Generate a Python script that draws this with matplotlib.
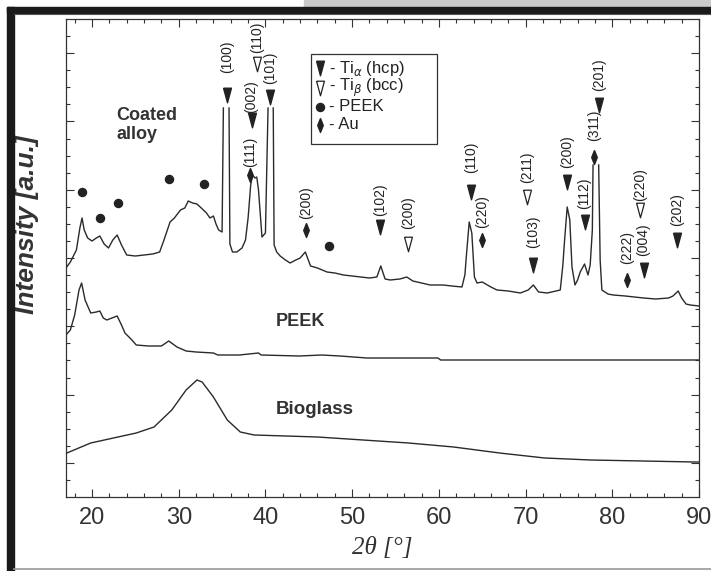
import numpy as np
import matplotlib
matplotlib.use("Agg")
import matplotlib.pyplot as plt
from matplotlib.lines import Line2D
from matplotlib.patches import Rectangle
from matplotlib.ticker import MultipleLocator, FixedLocator

nan = np.nan

# coated alloy pattern (peak tops hidden behind the labels -> nan)
coated_2theta = [17.0, 17.5, 18.2, 18.6, 18.85, 19.1, 19.5, 20.0, 20.5, 20.9, 21.4, 21.9, 22.4, 22.9,
                 23.4, 24.0, 25.0, 26.0, 27.0, 27.8, 28.3, 29.0, 29.5, 30.2, 30.7, 31.1, 31.6, 32.1,
                 32.6, 33.2, 33.6, 34.0, 34.3, 34.6, 35.0, 35.15, nan, 35.8, 35.9, 36.2, 36.7, 37.3,
                 37.7, 38.0, 38.3, 38.5, 38.8, 39.0, 39.2, 39.4, 39.6, 40.0, 40.3, nan, 40.9, 41.0,
                 41.3, 41.7, 42.3, 42.85, 43.5, 44.0, 44.6, 45.2, 46.0, 47.1, 48.0, 49.0, 50.0, 50.9,
                 52.0, 52.85, 53.3, 53.8, 54.4, 55.5, 56.3, 57.0, 58.0, 59.0, 60.5, 61.5, 62.66, 63.0,
                 63.2, 63.5, 63.8, 64.1, 64.4, 65.0, 66.0, 66.7, 68.0, 69.4, 70.3, 70.9, 71.5, 72.5,
                 73.5, 74.0, 74.3, 74.5, 74.8, 75.1, 75.35, 75.7, 76.0, 76.3, 76.8, 77.2, 77.45, 77.7,
                 77.78, nan, 78.43, 78.6, 78.8, 79.5, 80.1, 81.5, 82.5, 83.6, 85.0, 86.5, 87.0, 87.6,
                 88.0, 88.5, 89.0, 90.0]
coated_int = [229, 235, 247, 269, 279, 267, 259, 256, 259, 261, 253, 249, 257, 262,
              252, 242, 241, 242, 243, 245, 257, 275, 279, 287, 289, 296, 294, 293,
              289, 284, 279, 281, 273, 267, 265, 389, nan, 389, 253, 245, 245, 249,
              257, 279, 312, 322, 319, 320, 307, 284, 260, 264, 389, nan, 389, 252,
              245, 241, 237, 234, 237, 239, 245, 231, 229, 225, 224, 222, 221, 220,
              219, 220, 231, 218, 217, 218, 220, 216, 214, 212, 212, 211, 210, 222,
              244, 275, 264, 220, 214, 215, 210, 207, 206, 204, 207, 212, 205, 204,
              206, 207, 232, 257, 290, 277, 230, 212, 217, 225, 233, 222, 232, 267,
              332, nan, 332, 237, 207, 203, 202, 201, 200, 199, 198, 199, 201, 206,
              199, 193, 192, 191]

peek_2theta = [17.0, 17.5, 18.0, 18.5, 18.8, 19.2, 19.85, 20.5, 20.9, 21.3, 21.7, 22.3, 22.9, 23.4,
               23.8, 24.6, 25.1, 26.5, 28.0, 28.85, 29.8, 30.85, 32.0, 34.0, 34.5, 37.0, 39.2, 39.5,
               43.9, 46.5, 48.6, 51.7, 59.9, 60.2, 90.0]
peek_int = [162, 167, 182, 207, 214, 197, 184, 185, 186, 179, 177, 179, 181, 172,
            164, 157, 152, 151, 151, 156, 150, 146, 145, 144, 142, 142, 144, 142,
            141, 142, 141, 139, 139, 137, 137]

bioglass_2theta = [17.1, 19.85, 25.1, 27.15, 29.2, 30.85, 32.1, 32.7, 34.0, 35.6, 37.1, 38.7,
                   46.0, 56.5, 61.7, 67.0, 72.2, 77.5, 89.5, 90.0]
bioglass_int = [44, 54, 64, 70, 87, 107, 117, 115, 100, 77, 65, 62,
                60, 54, 50, 44, 39, 37, 35, 35]

# reflections: hkl, phase, 2theta, label height, marker height
refl_hkl = ["(100)", "(110)", "(002)", "(111)", "(101)", "(200)", "(102)", "(200)", "(110)", "(220)",
            "(211)", "(103)", "(200)", "(112)", "(311)", "(201)", "(222)", "(004)", "(220)", "(202)"]
refl_phase = ["a", "b", "a", "au", "a", "au", "a", "b", "a", "au",
              "b", "a", "a", "a", "au", "a", "au", "a", "b", "a"]
refl_2theta = [35.55, 39.0, 38.4, 38.2, 40.55, 44.7, 53.2, 56.45, 63.7, 64.95,
               70.15, 70.9, 74.75, 76.8, 77.9, 78.45, 81.75, 83.6, 83.2, 87.5]
refl_label_y = [440, 460, 400, 345, 429, 294, 297, 284, 340, 285,
                330, 265, 345, 304, 372, 422, 250, 257, 312, 287]
refl_mark_y = [402, 433, 377, 322, 400, 267, 270, 253, 305, 257,
               300, 232, 315, 275, 340, 392, 217, 227, 287, 257]

peek_dot_2theta = [18.9, 20.9, 22.95, 28.9, 32.9, 47.3]
peek_dot_y = [305, 279, 294, 318, 313, 251]

ink = "#222222"
tri = [(-0.27, 0.5), (0.27, 0.5), (0.0, -0.5), (-0.27, 0.5)]
dia = [(0.0, 0.5), (0.2, 0.0), (0.0, -0.5), (-0.2, 0.0), (0.0, 0.5)]
styles = {"a": dict(marker=tri, color=ink, ms=10.5, mec=ink),
          "b": dict(marker=tri, color="none", ms=10.5, mec=ink, mew=0.9),
          "au": dict(marker=dia, color=ink, ms=10, mec=ink),
          "peek": dict(marker="o", color=ink, ms=5.8, mec=ink)}

sans = ["Liberation Sans", "DejaVu Sans"]
plt.rcParams["font.family"] = sans

W, H = 711, 571
fig = plt.figure(figsize=(W / 100, H / 100), dpi=100)
ax = fig.add_axes([66 / W, 1 - 497 / H, (699 - 66) / W, (497 - 19) / H])

# scanned page border
fig.patches.append(Rectangle((304 / W, 1 - 7 / H), 407 / W, 7 / H, transform=fig.transFigure,
                             color="#c8cacc", zorder=0))
fig.patches.append(Rectangle((7 / W, 0), 7 / W, 1 - 7 / H, transform=fig.transFigure,
                             color="#1a1a1a", zorder=0))
fig.patches.append(Rectangle((7 / W, 1 - 12.5 / H), 704 / W, 5.5 / H, transform=fig.transFigure,
                             color="#1a1a1a", zorder=0))
fig.lines.append(Line2D([14 / W, 1], [1 - 14 / H, 1 - 14 / H], transform=fig.transFigure,
                        color="#555555", lw=0.8))
fig.lines.append(Line2D([14 / W, 1], [2 / H, 2 / H], transform=fig.transFigure,
                        color="#999999", lw=1.2))

lc = "#2a2a2a"
ax.plot(coated_2theta, coated_int, color=lc, lw=1.0)
ax.plot(peek_2theta, peek_int, color=lc, lw=1.0)
ax.plot(bioglass_2theta, bioglass_int, color=lc, lw=1.0)

for hkl, ph, x, yl, ym in zip(refl_hkl, refl_phase, refl_2theta, refl_label_y, refl_mark_y):
    ax.plot([x], [ym], ls="none", **styles[ph])
    ax.text(x, yl, hkl, rotation=90, ha="center", va="center", fontsize=10, color=ink)

ax.plot(peek_dot_2theta, peek_dot_y, ls="none", **styles["peek"])

ax.text(22.85, 372, "Coated\nalloy", ha="left", va="center", fontsize=13, fontweight="bold",
        color="#333333", linespacing=1.15)
ax.text(44.0, 175, "PEEK", ha="center", va="center", fontsize=13, fontweight="bold", color="#333333")
ax.text(45.7, 87, "Bioglass", ha="center", va="center", fontsize=13.5, fontweight="bold", color="#333333")

# legend box drawn by hand (figure pixels)
fig.patches.append(Rectangle((310.7 / W, 1 - 144 / H), 126 / W, 90 / H, transform=fig.transFigure,
                             facecolor="white", edgecolor="#333333", lw=0.9, zorder=5))
leg_keys = ["a", "b", "peek", "au"]
leg_text = [r"- Ti$_{\alpha}$ (hcp)", r"- Ti$_{\beta}$ (bcc)", "- PEEK", "- Au"]
leg_rows = [68, 88, 106.5, 124.5]
for k, t, r in zip(leg_keys, leg_text, leg_rows):
    yy = 1 - r / H
    fig.lines.append(Line2D([320 / W], [yy], transform=fig.transFigure, ls="none", zorder=6, **styles[k]))
    fig.text(329 / W, yy, t, ha="left", va="center", fontsize=12, color=ink, zorder=6)

ax.set_xlim(17, 90)
ax.set_ylim(0, 478)
ax.xaxis.set_major_locator(MultipleLocator(10))
ax.xaxis.set_minor_locator(MultipleLocator(2))
step = 478 / 28
ax.yaxis.set_major_locator(FixedLocator([step * k for k in range(2, 28, 4)]))
ax.yaxis.set_minor_locator(FixedLocator([step * k for k in range(1, 28)]))
ax.tick_params(which="both", direction="in", top=True, right=True, colors="#333333", width=0.8)
ax.tick_params(which="major", length=6)
ax.tick_params(which="minor", length=3)
ax.tick_params(axis="x", labelsize=17, pad=7, labelcolor="#333333")
ax.tick_params(axis="y", labelleft=False)
for s in ax.spines.values():
    s.set_color("#333333")
    s.set_linewidth(0.9)

ax.set_xlabel("2θ [°]", family=["Liberation Serif", "DejaVu Serif"], style="italic",
              fontsize=18, color="#333333", labelpad=6)
ax.set_ylabel("Intensity [a.u.]", fontsize=19, fontweight="bold", style="italic", color="#333333")
ax.yaxis.set_label_coords(-0.0434, 0.57)

fig.savefig("out.png", dpi=100)
